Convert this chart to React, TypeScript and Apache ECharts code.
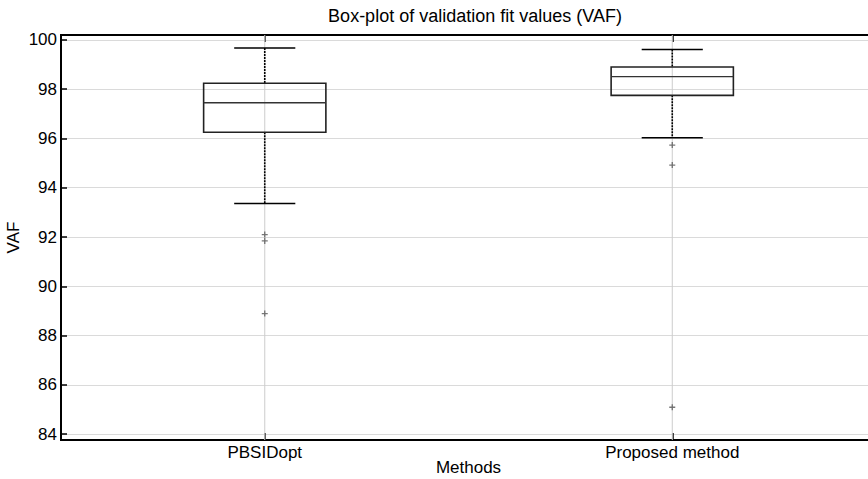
import React, { useEffect, useRef } from 'react';
import * as echarts from 'echarts';

const categories = ['PBSIDopt', 'Proposed method'];
const lowerWhisker = [93.36, 96.03];
const q1 = [96.25, 97.75];
const median = [97.45, 98.51];
const q3 = [98.24, 98.9];
const upperWhisker = [99.67, 99.61];
const outliers = [
  [92.1, 91.84, 88.89],
  [95.73, 94.92, 85.09],
];
const yTicks = [84, 86, 88, 90, 92, 94, 96, 98, 100];

const FONT = '"Liberation Sans", Arial, Helvetica, sans-serif';

export default function App() {
  const ref = useRef<HTMLDivElement>(null);
  useEffect(() => {
    if (!ref.current) return;
    const chart = echarts.init(ref.current, undefined, { renderer: 'svg' });

    const boxData = categories.map((_, i) => [i, lowerWhisker[i], q1[i], median[i], q3[i], upperWhisker[i]]);
    const outlierData: number[][] = [];
    outliers.forEach((arr, i) => arr.forEach((v) => outlierData.push([i, v])));

    const renderItem = (params: any, api: any) => {
      const idx = api.value(0);
      const lw = api.value(1);
      const lq = api.value(2);
      const md = api.value(3);
      const uq = api.value(4);
      const uw = api.value(5);
      const bw = api.size([1, 0])[0];
      const half = bw * 0.15;
      const cap = bw * 0.075;
      const pLw = api.coord([idx, lw]);
      const pLq = api.coord([idx, lq]);
      const pMd = api.coord([idx, md]);
      const pUq = api.coord([idx, uq]);
      const pUw = api.coord([idx, uw]);
      const cs = params.coordSys;
      const cx = pMd[0];
      const lineStyle = { stroke: '#000', lineWidth: 1.6, fill: null };
      const dashStyle = { stroke: '#000', lineWidth: 1.6, lineDash: [2, 1], fill: null };
      return {
        type: 'group',
        children: [
          {
            type: 'line',
            shape: { x1: cx, y1: cs.y, x2: cx, y2: cs.y + cs.height },
            style: { stroke: '#cccccc', lineWidth: 1 },
          },
          { type: 'line', shape: { x1: cx, y1: pUw[1], x2: cx, y2: pUq[1] }, style: dashStyle },
          { type: 'line', shape: { x1: cx, y1: pLq[1], x2: cx, y2: pLw[1] }, style: dashStyle },
          { type: 'line', shape: { x1: cx - cap, y1: pUw[1], x2: cx + cap, y2: pUw[1] }, style: lineStyle },
          { type: 'line', shape: { x1: cx - cap, y1: pLw[1], x2: cx + cap, y2: pLw[1] }, style: lineStyle },
          {
            type: 'rect',
            shape: { x: cx - half, y: pUq[1], width: half * 2, height: pLq[1] - pUq[1] },
            style: { stroke: '#222', lineWidth: 1.6, fill: 'transparent' },
          },
          { type: 'line', shape: { x1: cx - half, y1: pMd[1], x2: cx + half, y2: pMd[1] }, style: { stroke: '#333', lineWidth: 1.4 } },
        ],
      };
    };

    chart.setOption({
      animation: false,
      title: {
        text: 'Box-plot of validation fit values (VAF)',
        left: 470,
        top: 2,
        textAlign: 'center',
        textStyle: { fontFamily: FONT, fontSize: 18, fontWeight: 'normal', color: '#000' },
      },
      grid: {
        left: 61,
        top: 35,
        width: 815,
        height: 405,
        containLabel: false,
        outerBoundsMode: 'none',
        show: true,
        borderColor: '#000',
        borderWidth: 2,
        backgroundColor: 'transparent',
      },
      xAxis: [
        {
          type: 'category',
          data: categories,
          boundaryGap: true,
          position: 'bottom',
          name: 'Methods',
          nameLocation: 'middle',
          nameGap: 19,
          nameMoveOverlap: false,
          nameTextStyle: { fontFamily: FONT, fontSize: 17, color: '#000' },
          axisLine: { show: true, lineStyle: { color: '#000', width: 2 } },
          axisTick: { show: true, inside: true, alignWithLabel: true, length: 7, lineStyle: { color: '#000', width: 1.5 } },
          axisLabel: { fontFamily: FONT, fontSize: 17, color: '#000', margin: 4 },
          splitLine: { show: false },
        },
        {
          type: 'category',
          data: categories,
          boundaryGap: true,
          position: 'top',
          axisLine: { show: true, lineStyle: { color: '#000', width: 2 } },
          axisTick: { show: true, inside: true, alignWithLabel: true, length: 7, lineStyle: { color: '#000', width: 1.5 } },
          axisLabel: { show: false },
          splitLine: { show: false },
        },
      ],
      yAxis: {
        type: 'value',
        min: 83.76,
        max: 100.2,
        name: 'VAF',
        nameLocation: 'middle',
        nameGap: 39,
        nameMoveOverlap: false,
        nameTextStyle: { fontFamily: FONT, fontSize: 17, color: '#000' },
        axisLine: { show: true, lineStyle: { color: '#000', width: 2 } },
        axisTick: { show: true, inside: true, length: 6, customValues: yTicks, lineStyle: { color: '#000', width: 1.5 } },
        axisLabel: { fontFamily: FONT, fontSize: 17, color: '#000', margin: 4, customValues: yTicks },
        splitLine: { show: true, lineStyle: { color: '#dadada', width: 1 } },
      },
      series: [
        {
          type: 'custom',
          renderItem,
          data: boxData,
          encode: { x: 0, y: [1, 2, 3, 4, 5] },
          z: 2,
        },
        {
          type: 'scatter',
          data: outlierData,
          symbol: 'path://M5,0L5,10M0,5L10,5',
          symbolSize: 6,
          itemStyle: { color: 'transparent', borderColor: '#555', borderWidth: 1.3 },
          z: 3,
        },
      ],
    });
    return () => chart.dispose();
  }, []);
  return <div ref={ref} style={{ position: 'fixed', left: 0, top: 0, width: 868, height: 479, background: '#fff' }} />;
}
